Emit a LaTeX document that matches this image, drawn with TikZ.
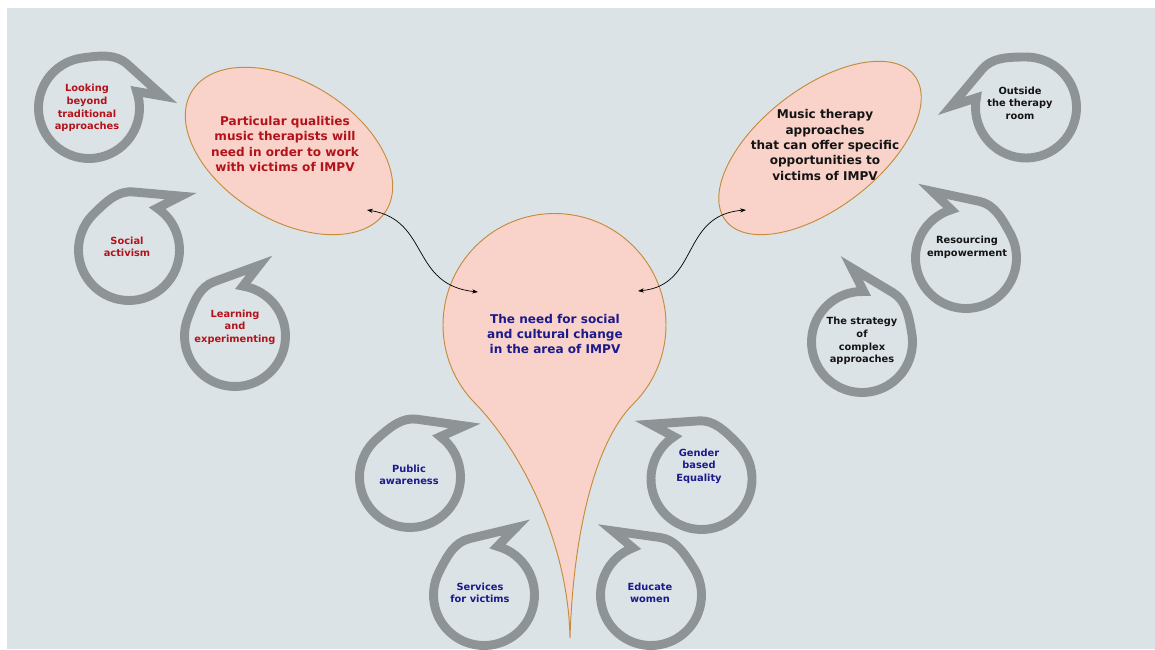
\documentclass[tikz,border=0pt]{standalone}
\usepackage{fontspec}
\setsansfont{DejaVu Sans}
\usepackage{tikz}
\usetikzlibrary{arrows.meta}
\usetikzlibrary{calc}
\definecolor{background-blue}{RGB}{220, 227, 230}
\definecolor{bubble-gray}{RGB}{142, 147, 150}
\definecolor{drop-pink}{RGB}{249, 211, 201}
\definecolor{drop-gold}{RGB}{196, 140, 60}
\definecolor{text-red}{RGB}{180, 18, 27}
\definecolor{text-navy}{RGB}{26, 26, 140}
\definecolor{text-black}{RGB}{20, 20, 20}

\tikzset{
  drop/.style={fill=drop-pink, draw=drop-gold, line width=0.8pt, line join=round},
  bubble/.style={draw=bubble-gray, line width=7.6pt, line join=miter},
  bigtext/.style={font=\sffamily\bfseries\fontsize{10.3}{13.2}\selectfont, align=center},
  smalltext/.style={font=\sffamily\bfseries\fontsize{8.4}{10.8}\selectfont, align=center},
  link/.style={<->, >={Stealth[length=5pt,width=3.6pt]}, line width=0.6pt, black}
}

% speech bubble: centre, angle of the tail, 1 or -1 (mirrored)
\newcommand{\speech}[3]{%
  \begin{scope}[shift={#1}, rotate=#2, yscale=#3]
    \draw[bubble] (16:50.5) arc[start angle=16, end angle=-265, radius=50.5] .. controls (15.5,52) and (29.9,52.4) .. (40.5,41.8) -- (74.3,8) -- cycle;
  \end{scope}}

\begin{document}
\begin{tikzpicture}[x=0.03cm, y=0.03cm]
   \fill[use as bounding box, white] (0,0) rectangle (1155,650);
   \fill[background-blue] (7,1) rectangle (1155,642);

   % the three main shapes
   \filldraw[drop, shift={(289,499)}, rotate=-31.5] (0,0) ellipse [x radius=114, y radius=69];
   \filldraw[drop, shift={(820,502)}, rotate=37.5] (0,0) ellipse [x radius=119, y radius=60];
   \coordinate (needc) at (554.5,325);
   \filldraw[drop] (570,12) .. controls (568,110) and (520,200) .. ($(needc)+(225:111.5)$) arc[start angle=225, end angle=-45, radius=111.5] .. controls (593,206) and (573,110) .. (570,12) -- cycle;

   \node[bigtext, text=text-red] (qual) at (285,506) {Particular qualities\\music therapists will\\need in order to work\\with victims of IMPV};
   \node[bigtext, text=text-black] (approach) at (825,505) {Music therapy\\approaches\\that can offer specific\\opportunities to\\victims of IMPV};
   \node[bigtext, text=text-navy] (need) at (555,316) {The need for social\\and cultural change\\in the area of IMPV};

   % arrows
   \coordinate (qualend) at (367,440);
   \coordinate (needleft) at (478,358);
   \coordinate (needright) at (638,359);
   \coordinate (approachend) at (746,440);
   \draw[link] (qualend) .. controls (430,430) and (410,365) .. (needleft);
   \draw[link] (needright) .. controls (700,365) and (680,435) .. (approachend);

   % bubbles on the left
   \speech{(89,542)}{3}{1}
   \speech{(129,400)}{40}{1}
   \speech{(235,314)}{65}{1}
   \node[smalltext, text=text-red] (looking) at (87,542) {Looking\\beyond\\traditional\\approaches};
   \node[smalltext, text=text-red] (activism) at (127,403) {Social\\activism};
   \node[smalltext, text=text-red] (learning) at (235,323) {Learning\\and\\experimenting};

   % bubbles on the right
   \speech{(1026,542.5)}{185}{-1}
   \speech{(966,392)}{123}{-1}
   \speech{(862,308)}{104}{-1}
   \node[smalltext, text=text-black] (outside) at (1020,547) {Outside\\the therapy\\room};
   \node[smalltext, text=text-black] (resourcing) at (967,403) {Resourcing\\empowerment};
   \node[smalltext, text=text-black] (strategy) at (862,309) {The strategy\\of\\complex\\approaches};

   % bubbles at the bottom
   \speech{(410,173)}{37}{1}
   \speech{(484,55)}{58.5}{1}
   \speech{(701.5,171)}{139}{-1}
   \speech{(651,55)}{127}{-1}
   \node[smalltext, text=text-navy] (awareness) at (409,175) {Public\\awareness};
   \node[smalltext, text=text-navy] (services) at (480,57) {Services\\for victims};
   \node[smalltext, text=text-navy] (equality) at (699,184) {Gender\\based\\Equality};
   \node[smalltext, text=text-navy] (educate) at (650,57) {Educate\\women};
\end{tikzpicture}
\end{document}
